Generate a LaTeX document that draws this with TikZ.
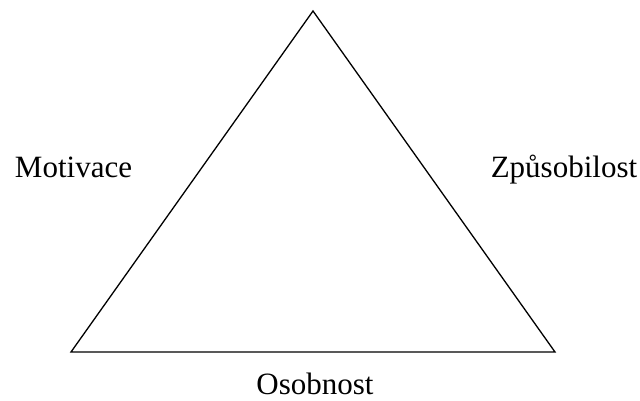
\documentclass[tikz,border=0pt]{standalone}
\usepackage{fontspec}
\setmainfont{Liberation Serif}
\begin{document}
\begin{tikzpicture}[x=1pt,y=-1pt,
  edge/.style={line width=1.3pt, line join=miter},
  lbl/.style={font=\fontsize{31}{36}\selectfont, inner sep=0pt, anchor=base}]
\useasboundingbox (0,0) rectangle (640,401);
\coordinate (top) at (313,11);
\coordinate (bl) at (71,352);
\coordinate (br) at (555,352);
\draw[edge] (top) -- (br) -- (bl) -- cycle;
\node[lbl] (mot) at (73.5,178) {Motivace};
\node[lbl] (zpu) at (564,178) {Způsobilost};
\node[lbl] (oso) at (315,394) {Osobnost};
\end{tikzpicture}
\end{document}
